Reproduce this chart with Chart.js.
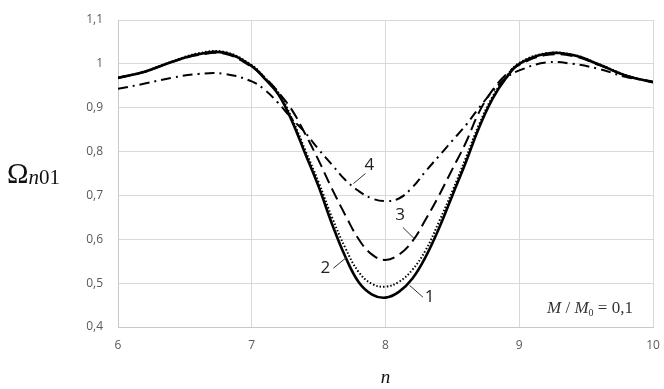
<!DOCTYPE html>
<html>
<head>
<meta charset="utf-8">
<script src="https://cdn.jsdelivr.net/npm/chart.js@4/dist/chart.umd.min.js"></script>
<style>
    html, body { margin: 0; padding: 0; background: #ffffff; }
    #wrap { width: 664px; height: 389px; position: relative; }
</style>
</head>
<body>
<div id="wrap"><canvas id="omegaChart"></canvas></div>
<script>
// Собственная частота Ω_n01 в зависимости от n, M/M0 = 0,1

const nValues = [6.0, 6.2, 6.4, 6.6, 6.8, 7.0, 7.1, 7.2, 7.3, 7.4, 7.5, 7.6, 7.7, 7.8, 7.9,
                 8.0, 8.1, 8.2, 8.3, 8.4, 8.5, 8.6, 8.7, 8.8, 8.9, 9.0, 9.2, 9.4, 9.6, 9.8, 10.0];

// кривая 1 - сплошная
const omega1 = [0.968, 0.982, 1.004, 1.022, 1.025, 0.995, 0.965, 0.930, 0.870, 0.795, 0.720, 0.635, 0.560, 0.502, 0.474,
                0.467, 0.480, 0.510, 0.560, 0.625, 0.700, 0.775, 0.855, 0.920, 0.967, 1.000, 1.023, 1.020, 0.998, 0.973, 0.958];
// кривая 2 - точки
const omega2 = [0.968, 0.983, 1.005, 1.024, 1.027, 0.997, 0.968, 0.934, 0.876, 0.803, 0.730, 0.650, 0.580, 0.525, 0.498,
                0.492, 0.503, 0.530, 0.575, 0.640, 0.710, 0.785, 0.862, 0.925, 0.970, 1.002, 1.024, 1.021, 0.999, 0.974, 0.958];
// кривая 3 - штрих
const omega3 = [0.968, 0.982, 1.004, 1.020, 1.023, 0.993, 0.968, 0.935, 0.895, 0.840, 0.780, 0.715, 0.655, 0.600, 0.565,
                0.553, 0.565, 0.595, 0.645, 0.700, 0.760, 0.820, 0.890, 0.940, 0.975, 0.998, 1.020, 1.018, 0.997, 0.973, 0.958];
// кривая 4 - штрихпунктир
const omega4 = [0.943, 0.955, 0.968, 0.977, 0.977, 0.960, 0.940, 0.910, 0.875, 0.843, 0.805, 0.770, 0.735, 0.710, 0.693,
                0.687, 0.693, 0.718, 0.755, 0.790, 0.825, 0.860, 0.900, 0.937, 0.968, 0.985, 1.003, 1.000, 0.988, 0.970, 0.960];

// номера кривых: позиция подписи и выноска (в координатах n, Ω)
const curveLabels = [
    { text: '1', at: [8.33, 0.468], from: [8.18, 0.495], to: [8.28, 0.468] },
    { text: '2', at: [7.55, 0.534], from: [7.61, 0.534], to: [7.71, 0.559] },
    { text: '3', at: [8.11, 0.655], from: [8.13, 0.627], to: [8.22, 0.600] },
    { text: '4', at: [7.88, 0.768], from: [7.76, 0.727], to: [7.85, 0.750] }
];

const pts = (ys) => nValues.map((n, i) => ({ x: n, y: ys[i] }));

const fmtComma = (v) => String(Number(v.toFixed(1))).replace('.', ',');

// подписи осей, номера кривых и параметр M/M0
const decorations = {
    id: 'decorations',
    afterDatasetsDraw(chart) {
        const { ctx, scales: { x, y }, chartArea } = chart;
        ctx.save();

        // номера кривых с выносками
        ctx.strokeStyle = '#333333';
        ctx.lineWidth = 1;
        ctx.fillStyle = '#222222';
        ctx.font = '17px "Open Sans", sans-serif';
        ctx.textAlign = 'center';
        ctx.textBaseline = 'middle';
        curveLabels.forEach(l => {
            ctx.beginPath();
            ctx.moveTo(x.getPixelForValue(l.from[0]), y.getPixelForValue(l.from[1]));
            ctx.lineTo(x.getPixelForValue(l.to[0]), y.getPixelForValue(l.to[1]));
            ctx.stroke();
            ctx.fillText(l.text, x.getPixelForValue(l.at[0]), y.getPixelForValue(l.at[1]));
        });

        // M / M0 = 0,1
        ctx.fillStyle = '#333333';
        ctx.textAlign = 'left';
        ctx.textBaseline = 'alphabetic';
        let px = chartArea.right - 106;
        const base = chartArea.bottom - 14;
        const put = (txt, font, dy) => {
            ctx.font = font;
            ctx.fillText(txt, px, base + (dy || 0));
            px += ctx.measureText(txt).width;
        };
        put('M', 'italic 17px "Liberation Serif", serif');
        put(' / ', '17px "Liberation Serif", serif');
        put('M', 'italic 17px "Liberation Serif", serif');
        put('0', '10px "Liberation Serif", serif', 3);
        put(' = 0,1', '17px "Liberation Serif", serif');

        // подпись оси X
        ctx.fillStyle = '#111111';
        ctx.textAlign = 'center';
        ctx.font = 'italic 19px "Liberation Serif", serif';
        ctx.fillText('n', x.getPixelForValue(8), 383);

        // подпись оси Y: Ω_n01
        ctx.textAlign = 'left';
        px = 7;
        const yb = 183;
        ctx.font = '29px "Liberation Serif", serif';
        ctx.fillText('Ω', px, yb);
        px += ctx.measureText('Ω').width;
        ctx.font = 'italic 21px "Liberation Serif", serif';
        ctx.fillText('n', px, yb + 1);
        px += ctx.measureText('n').width;
        ctx.font = '21px "Liberation Serif", serif';
        ctx.fillText('01', px, yb + 1);

        ctx.restore();
    }
};

const line = (data, width, dash) => ({
    data: pts(data),
    borderColor: '#000000',
    borderWidth: width,
    borderDash: dash,
    pointRadius: 0,
    fill: false,
    tension: 0.4
});

new Chart(document.getElementById('omegaChart').getContext('2d'), {
    type: 'line',
    data: {
        datasets: [
            line(omega4, 2, [10, 5, 2, 5]),
            line(omega3, 2, [12, 6]),
            line(omega2, 2, [1.5, 2]),
            line(omega1, 2.6, [])
        ]
    },
    options: {
        responsive: true,
        maintainAspectRatio: false,
        animation: false,
        layout: { padding: { left: 0, right: 11, top: 20, bottom: 0 } },
        plugins: {
            legend: { display: false },
            tooltip: { enabled: false }
        },
        scales: {
            x: {
                type: 'linear',
                min: 6,
                max: 10,
                afterFit(axis) {
                    axis.height = 62;
                    axis.paddingLeft = 0;
                    axis.paddingRight = 0;
                },
                grid: { color: '#d9d9d9', drawTicks: false },
                border: { color: '#c8c8c8' },
                ticks: {
                    stepSize: 1,
                    padding: 11,
                    color: '#595959',
                    font: { family: 'Open Sans', size: 12 }
                }
            },
            y: {
                min: 0.4,
                max: 1.1,
                afterFit(axis) {
                    axis.width = 118;
                    axis.paddingTop = 0;
                    axis.paddingBottom = 0;
                },
                grid: { color: '#d9d9d9', drawTicks: false },
                border: { color: '#c8c8c8' },
                ticks: {
                    stepSize: 0.1,
                    padding: 15,
                    color: '#595959',
                    font: { family: 'Open Sans', size: 12 },
                    callback: (v) => fmtComma(v)
                }
            }
        }
    },
    plugins: [decorations]
});
</script>
</body>
</html>
